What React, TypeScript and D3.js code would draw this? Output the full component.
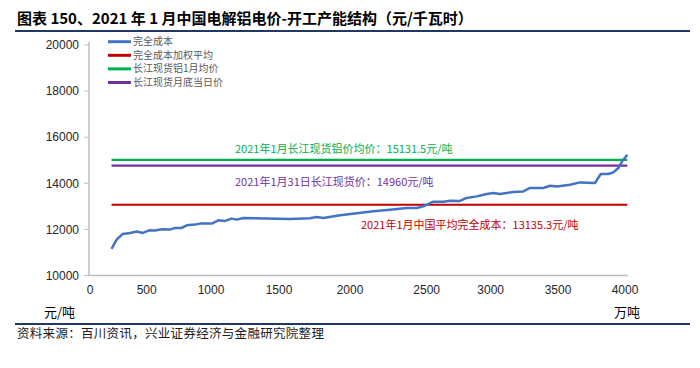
import * as d3 from "d3";

// full cost curve (cumulative capacity, 万吨 -> 元/吨)
const capacity = [190, 235, 288, 353, 412, 465, 520, 565, 617, 681, 720, 772, 811, 876, 914, 1005, 1054, 1103, 1152, 1189, 1238, 1577, 1718, 1765, 1812, 1930, 2044, 2152, 2261, 2370, 2435, 2478, 2552, 2630, 2682, 2760, 2813, 2891, 2969, 3019, 3069, 3168, 3242, 3292, 3391, 3441, 3490, 3590, 3664, 3776, 3819, 3875, 3913, 3950, 3983, 4017];
const cost = [11156, 11558, 11805, 11848, 11905, 11848, 11961, 11948, 12004, 11991, 12065, 12065, 12178, 12208, 12251, 12251, 12394, 12368, 12468, 12424, 12498, 12455, 12481, 12541, 12498, 12610, 12697, 12784, 12857, 12931, 12931, 13000, 13203, 13203, 13247, 13234, 13364, 13433, 13537, 13580, 13537, 13623, 13649, 13797, 13797, 13896, 13866, 13939, 14039, 14013, 14403, 14403, 14472, 14662, 14991, 15238];

const seriesNames = ["完全成本", "完全成本加权平均", "长江现货铝1月均价", "长江现货月底当日价"];
const seriesColors = ["#4472C4", "#C00000", "#00B050", "#7030A0"];
// flat reference levels as drawn: weighted avg cost, monthly avg price, month-end price
const refLevels = [13070, 15020, 14770];
const refNotes = [
  "2021年1月中国平均完全成本：13135.3元/吨",
  "2021年1月长江现货铝价均价：15131.5元/吨",
  "2021年1月31日长江现货价：14960元/吨",
];

const xTicks = [0, 500, 1000, 1500, 2000, 2500, 3000, 3500, 4000];
const yTicks = [10000, 12000, 14000, 16000, 18000, 20000];

const W = 700;
const H = 368;
const left = 89;
// Excel category-style axis: label spacing is uneven
const xTickOffsets = [1, 57.7, 122, 190, 261, 337.7, 401.7, 469, 536];

export default function App() {
  const x = d3.scaleLinear().domain(xTicks).range(xTickOffsets.map((o) => left + o));
  const y = d3.scaleLinear().domain([10000, 20000]).range([275.5, 45]);

  const pts = capacity.map((c, i) => [c, cost[i]] as [number, number]);
  const line = d3
    .line<[number, number]>()
    .x((d) => x(d[0]))
    .y((d) => y(d[1]));

  const x0 = x(capacity[0]);
  const x1 = x(capacity[capacity.length - 1]);
  const font = "'Noto Sans CJK SC', 'Noto Sans', sans-serif";
  const tickFont = "'Liberation Sans', Arial, sans-serif";

  // note positions: [x, dy from its line]
  const notePos: [number, number][] = [
    [361, 20],
    [235, -11],
    [235, 17],
  ];
  const refColors = [seriesColors[1], seriesColors[2], seriesColors[3]];

  return (
    <svg width={W} height={H} style={{ position: "absolute", left: 0, top: 0 }}>
      <rect width={W} height={H} fill="#fff" />
      <text x={17} y={24} fontFamily={font} fontWeight={700} fontSize={15} fill="#000">
        图表 150、2021 年 1 月中国电解铝电价-开工产能结构（元/千瓦时）
      </text>
      <line x1={15} x2={690} y1={31} y2={31} stroke="#1F3864" strokeWidth={2} />

      {/* axes */}
      <line x1={left} x2={left} y1={y(20000) - 3} y2={y(10000)} stroke="#BFBFBF" strokeWidth={1.5} />
      <line x1={left} x2={x1 + 1} y1={y(10000)} y2={y(10000)} stroke="#BFBFBF" strokeWidth={1.5} />
      {yTicks.map((t) => (
        <g key={t}>
          <line x1={left - 5} x2={left} y1={y(t)} y2={y(t)} stroke="#BFBFBF" />
          <text x={79} y={y(t)} dy="0.35em" textAnchor="end" fontFamily={tickFont} fontSize={12} fill="#262626">
            {t}
          </text>
        </g>
      ))}
      {xTicks.map((t) => (
        <text key={t} x={x(t)} y={294} textAnchor="middle" fontFamily={tickFont} fontSize={12} fill="#262626">
          {t}
        </text>
      ))}
      <text x={44} y={317} fontFamily={font} fontSize={13} fill="#000">元/吨</text>
      <text x={627} y={317} textAnchor="middle" fontFamily={font} fontSize={13} fill="#000">万吨</text>

      {/* reference lines */}
      {refLevels.map((v, i) => (
        <g key={i}>
          <line x1={x0} x2={x1} y1={y(v)} y2={y(v)} stroke={refColors[i]} strokeWidth={2.2} />
          <text x={notePos[i][0]} y={y(v) + notePos[i][1]} dy="0.35em" fontFamily={font} fontSize={11} fill={refColors[i]}>
            {refNotes[i]}
          </text>
        </g>
      ))}

      <path d={line(pts) ?? ""} fill="none" stroke={seriesColors[0]} strokeWidth={2.5} strokeLinejoin="round" />

      {/* legend */}
      {seriesNames.map((n, i) => (
        <g key={n} transform={`translate(108, ${41.7 + i * 13.6})`}>
          <line x1={0} x2={23} y1={0} y2={0} stroke={seriesColors[i]} strokeWidth={3} />
          <text x={25} y={0} dy="0.35em" fontFamily={font} fontSize={10} fill="#595959">
            {n}
          </text>
        </g>
      ))}

      <line x1={15} x2={690} y1={324} y2={324} stroke="#1F3864" strokeWidth={2} />
      <text x={17} y={338} fontFamily={font} fontSize={12.5} letterSpacing={0.3} fill="#1a1a1a">
        资料来源：百川资讯，兴业证券经济与金融研究院整理
      </text>
    </svg>
  );
}
